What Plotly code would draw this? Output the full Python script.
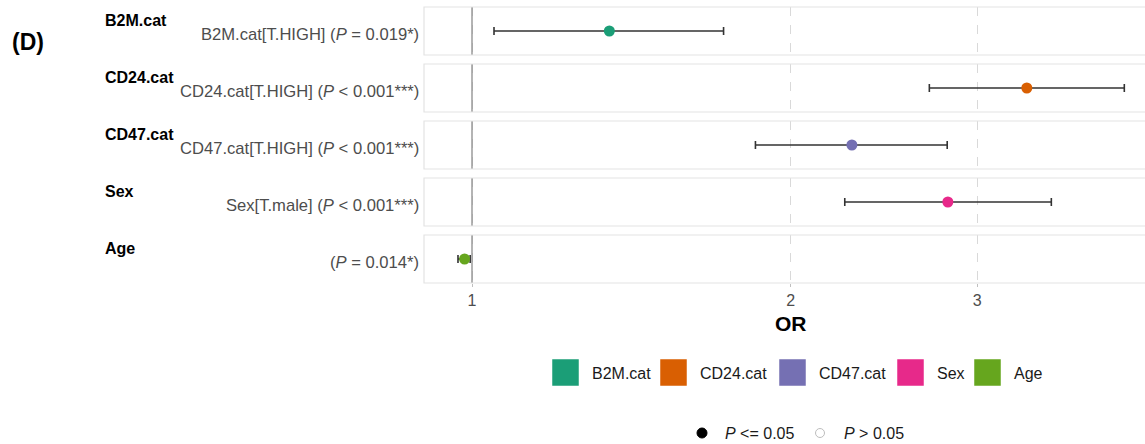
import math
import plotly.graph_objects as go
from plotly.subplots import make_subplots

# ---------------- data ----------------
groups = ["B2M.cat", "CD24.cat", "CD47.cat", "Sex", "Age"]
terms = ["B2M.cat[T.HIGH]", "CD24.cat[T.HIGH]", "CD47.cat[T.HIGH]", "Sex[T.male]", ""]
p_text = ["= 0.019*", "&lt; 0.001***", "&lt; 0.001***", "&lt; 0.001***", "= 0.014*"]
or_vals = [1.348, 3.341, 2.284, 2.814, 0.984]
ci_low = [1.049, 2.703, 1.852, 2.249, 0.970]
ci_high = [1.728, 4.130, 2.810, 3.524, 0.996]
colors = ["#1B9E77", "#D95F02", "#7570B3", "#E7298A", "#66A61E"]
x_ticks = [1, 2, 3]
x_tick_labels = ["1", "2", "3"]
sig_labels = ["<i>P</i> &lt;= 0.05", "<i>P</i> &gt; 0.05"]

# ---------------- layout geometry (pixels) ----------------
W, H = 1145, 444
L, R, T, B = 424, 0, 7, 161
PW, PH = W - L - R, H - T - B
GAP = 9
n = len(groups)


def px(xp):
    return (xp - L) / PW


def py(yp):
    return (H - B - yp) / PH


FONT = "Liberation Sans, Arial, Helvetica, sans-serif"

fig = make_subplots(rows=n, cols=1, shared_xaxes=True, vertical_spacing=GAP / PH)

for i in range(n):
    r = i + 1
    xr = "x" if r == 1 else f"x{r}"
    xdom = "x domain" if r == 1 else f"x{r} domain"
    ydom = "y domain" if r == 1 else f"y{r} domain"
    fig.add_trace(
        go.Scatter(
            x=[or_vals[i]], y=[0], mode="markers",
            marker=dict(color=colors[i], size=11, line=dict(width=0)),
            error_x=dict(type="data", symmetric=False,
                         array=[ci_high[i] - or_vals[i]],
                         arrayminus=[or_vals[i] - ci_low[i]],
                         color="#333333", thickness=1.6, width=4),
            showlegend=False, hoverinfo="skip",
        ),
        row=r, col=1,
    )
    # reference line at OR = 1
    fig.add_shape(type="line", xref=xr, yref=ydom,
                  x0=1, x1=1, y0=0, y1=1, line=dict(color="#8c8c8c", width=1.3), layer="above")
    # panel border
    fig.add_shape(type="rect", xref=xdom, yref=ydom,
                  x0=0, x1=1.05, y0=0, y1=1, line=dict(color="#e3e3e3", width=1.2), layer="above")
    # group label (bold)
    fig.add_annotation(text=f"<b>{groups[i]}</b>", xref="paper", yref=ydom,
                       x=px(103), y=0.5, xanchor="left", yanchor="middle", yshift=11,
                       showarrow=False, font=dict(family=FONT, size=16, color="#000000"))
    # term label (gray)
    lab = (terms[i] + " " if terms[i] else "") + f"(<i>P</i> {p_text[i]})"
    fig.add_annotation(text=lab, xref="paper", yref=ydom,
                       x=px(421), y=0.5, xanchor="right", yanchor="middle", yshift=-3,
                       showarrow=False, font=dict(family=FONT, size=16.6, color="#4d4d4d"))
    fig.update_yaxes(row=r, col=1, range=[-1, 1], showticklabels=False, showgrid=False,
                     zeroline=False, showline=False, ticks="")

fig.update_xaxes(type="log", range=[math.log10(0.9009), math.log10(4.32)],
                 tickvals=x_ticks, ticktext=x_tick_labels,
                 showgrid=True, gridcolor="#d9d9d9", griddash="dash", gridwidth=1,
                 zeroline=False, showline=False)
fig.update_xaxes(row=n, col=1, ticks="outside", ticklen=3, tickcolor="#bfbfbf",
                 tickfont=dict(family="Liberation Sans Narrow, Liberation Sans, Arial", size=16, color="#4d4d4d"))

# (D) label
fig.add_annotation(text="<b>(D)</b>", xref="paper", yref="paper", x=px(10), y=py(42),
                   xanchor="left", yanchor="middle", showarrow=False,
                   font=dict(family=FONT, size=23, color="#000000"))
# axis title
fig.add_annotation(text="<b>OR</b>", xref="paper", yref="paper", x=px(791), y=py(323),
                   xanchor="center", yanchor="middle", showarrow=False,
                   font=dict(family=FONT, size=21, color="#000000"))

# colour legend
sq_left = [552, 660, 779, 897, 974]
for i in range(n):
    x0 = sq_left[i]
    fig.add_shape(type="rect", xref="paper", yref="paper",
                  x0=px(x0), x1=px(x0 + 27), y0=py(386), y1=py(359),
                  fillcolor=colors[i], line=dict(color="#ffffff", width=0.5), layer="above")
    fig.add_annotation(text=groups[i], xref="paper", yref="paper", x=px(x0 + 38), y=py(373),
                       xanchor="left", yanchor="middle", showarrow=False,
                       font=dict(family=FONT, size=16, color="#1a1a1a"))

# significance legend
fig.add_shape(type="circle", xref="paper", yref="paper",
              x0=px(697), x1=px(707), y0=py(438), y1=py(428),
              fillcolor="#000000", line=dict(color="#000000", width=1))
fig.add_shape(type="circle", xref="paper", yref="paper",
              x0=px(815.5), x1=px(824.5), y0=py(437.5), y1=py(428.5),
              fillcolor="#ffffff", line=dict(color="#bdbdbd", width=1))
fig.add_annotation(text=sig_labels[0], xref="paper", yref="paper", x=px(723), y=py(433),
                   xanchor="left", yanchor="middle", showarrow=False,
                   font=dict(family=FONT, size=16, color="#1a1a1a"))
fig.add_annotation(text=sig_labels[1], xref="paper", yref="paper", x=px(842), y=py(433),
                   xanchor="left", yanchor="middle", showarrow=False,
                   font=dict(family=FONT, size=16, color="#1a1a1a"))

fig.update_layout(width=W, height=H, margin=dict(l=L, r=R, t=T, b=B),
                  paper_bgcolor="#ffffff", plot_bgcolor="#ffffff", showlegend=False,
                  font=dict(family=FONT))

fig.write_html("out.html", config={"displayModeBar": False},
               post_script="document.body.style.margin='0';document.body.style.overflow='hidden';")
